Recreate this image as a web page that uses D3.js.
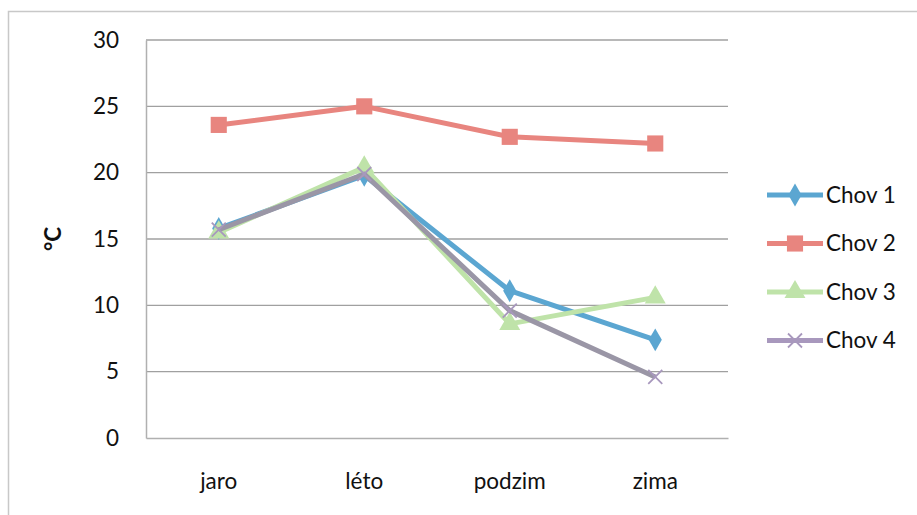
<!DOCTYPE html>
<html>
<head>
<meta charset="utf-8">
<script src="https://cdn.jsdelivr.net/npm/d3@7"></script>
<style>
  html, body { margin: 0; padding: 0; background: #fff; }
  svg { display: block; }
  text { font-family: Lato, "Noto Sans", sans-serif; fill: #111; }
</style>
</head>
<body>
<svg id="chart" width="917" height="515"></svg>
<script>
const categories = ["jaro", "léto", "podzim", "zima"];
const seriesNames = ["Chov 1", "Chov 2", "Chov 3", "Chov 4"];
const chov1 = [15.8, 19.8, 11.1, 7.4];
const chov2 = [23.6, 25.0, 22.7, 22.2];
const chov3 = [15.5, 20.4, 8.6, 10.6];
const chov4 = [15.7, 19.9, 9.6, 4.6];
const yTicks = [0, 5, 10, 15, 20, 25, 30];
const yLabel = "°C";

const seriesValues = [chov1, chov2, chov3, chov4];
const lineColors = ["#5ba6d1", "#e8857f", "#bfe3a9", "#9a96a6"];
const markColors = ["#5ba6d1", "#e8857f", "#bfe3a9", "#a898bd"];
const markers = ["diamond", "square", "triangle", "x"];

const svg = d3.select("#chart");
const W = 917, H = 515;
const plot = { left: 146, right: 728, top: 40, bottom: 438 };
const fs = "22.5px";

// outer border
svg.append("path")
  .attr("d", `M8.5,${H} L8.5,11.5 L${W},11.5`)
  .attr("fill", "none").attr("stroke", "#c8c8c8").attr("stroke-width", 1.5);

const x = d3.scaleBand().domain(categories).range([plot.left, plot.right]).padding(0);
const y = d3.scaleLinear().domain([0, 30]).range([plot.bottom, plot.top]);
const cx = c => x(c) + x.bandwidth() / 2;

// gridlines
svg.append("g").selectAll("line").data(yTicks.filter(t => t > 0)).join("line")
  .attr("x1", plot.left).attr("x2", plot.right)
  .attr("y1", d => y(d)).attr("y2", d => y(d))
  .attr("stroke", "#a0a0a0").attr("stroke-width", 1.3);

// axes
const yAxis = d3.axisLeft(y).tickValues(yTicks).tickSize(0).tickPadding(27);
const gy = svg.append("g").attr("transform", `translate(${plot.left},0)`).call(yAxis);
gy.select(".domain").attr("stroke", "#b0b0b0").attr("stroke-width", 1.5);
gy.selectAll("text").style("font-size", fs).attr("fill", "#111");

const xAxis = d3.axisBottom(x).tickSize(0).tickPadding(35);
const gx = svg.append("g").attr("transform", `translate(0,${plot.bottom})`).call(xAxis);
gx.select(".domain").attr("stroke", "#b0b0b0").attr("stroke-width", 1.5);
gx.selectAll("text").style("font-size", fs).attr("fill", "#111");

// y label
svg.append("text")
  .attr("transform", `translate(61,${(plot.top + plot.bottom) / 2}) rotate(-90)`)
  .attr("text-anchor", "middle")
  .style("font-size", fs).style("font-weight", "bold")
  .text(yLabel);

function markerPath(type) {
  if (type === "diamond") return d3.symbol(d3.symbolDiamond, 150)();
  if (type === "square") return d3.symbol(d3.symbolSquare, 260)();
  if (type === "triangle") return d3.symbol(d3.symbolTriangle, 190)();
  return null;
}
function drawMarker(g, type, px, py, color) {
  if (type === "x") {
    const s = 7;
    g.append("path")
      .attr("d", `M${px - s},${py - s}L${px + s},${py + s}M${px - s},${py + s}L${px + s},${py - s}`)
      .attr("stroke", color).attr("stroke-width", 1.8).attr("fill", "none");
  } else {
    g.append("path").attr("d", markerPath(type))
      .attr("transform", `translate(${px},${py})`)
      .attr("fill", color);
  }
}

const line = d3.line().x((d, i) => cx(categories[i])).y(d => y(d));

seriesValues.forEach((vals, si) => {
  const g = svg.append("g");
  g.append("path").datum(vals).attr("d", line)
    .attr("fill", "none").attr("stroke", lineColors[si]).attr("stroke-width", 5)
    .attr("stroke-linejoin", "round");
  vals.forEach((v, i) => drawMarker(g, markers[si], cx(categories[i]), y(v), markColors[si]));
});

// legend
const legend = svg.append("g");
seriesNames.forEach((name, i) => {
  const ly = 195 + i * 48.5;
  legend.append("line").attr("x1", 767).attr("x2", 823).attr("y1", ly).attr("y2", ly)
    .attr("stroke", markColors[i]).attr("stroke-width", 5);
  drawMarker(legend, markers[i], 795, ly, markColors[i]);
  legend.append("text").attr("x", 826).attr("y", ly).attr("dy", "0.35em")
    .style("font-size", fs).text(name);
});
</script>
</body>
</html>
